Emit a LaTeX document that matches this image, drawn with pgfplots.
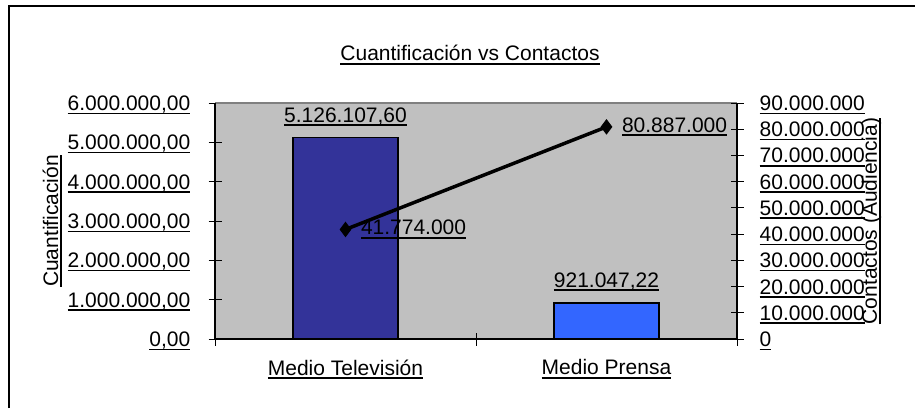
\documentclass[border=0pt]{standalone}
\usepackage{pgfplots}
\pgfplotsset{compat=1.18}
\usepackage{pgfplotstable}
\usepackage{fontspec}
\setmainfont{Liberation Sans}
\definecolor{plotgray}{HTML}{C0C0C0}
\definecolor{bordergray}{HTML}{808080}
\definecolor{tvblue}{HTML}{333399}
\definecolor{prblue}{HTML}{3366FF}
\newcommand\ul[1]{\leavevmode\vtop{\setbox0\hbox{#1}\dp0=0pt\box0\kern2pt\hrule height 1.6pt}}

\pgfplotstableread{
x y lab
1 5126107.60 5.126.107,60
}\tvtab
\pgfplotstableread{
x y lab
2 921047.22 921.047,22
}\prtab
\pgfplotstableread{
x y lab
1 41774000 41.774.000
2 80887000 80.887.000
}\contab

\begin{document}
\begin{tikzpicture}[x=1pt,y=1pt,font=\fontsize{21}{25}\selectfont]
\path[use as bounding box] (0,0) rectangle (915,408);
\draw[line width=2pt] (9,0) -- (9,402) -- (915,402);
\node[anchor=base] at (470,347) {\ul{Cuantificación vs Contactos}};
\begin{axis}[
  at={(215pt,69pt)}, anchor=south west, scale only axis,
  width=522pt, height=236pt,
  font=\fontsize{21}{25}\selectfont,
  xmin=0.5, xmax=2.5, ymin=0, ymax=6000000,
  scaled y ticks=false,
  axis background/.style={fill=plotgray},
  axis line style={draw=none},
  xtick={1,2}, xticklabels={\ul{Medio Televisión},\ul{Medio Prensa}},
  xtick style={draw=none},
  extra x ticks={0.5,1.5,2.5}, extra x tick labels={},
  extra x tick style={xtick style={draw=black,line width=1pt}},
  ytick={0,1000000,2000000,3000000,4000000,5000000,6000000},
  yticklabels={\ul{0,00},\ul{1.000.000,00},\ul{2.000.000,00},\ul{3.000.000,00},\ul{4.000.000,00},\ul{5.000.000,00},\ul{6.000.000,00}},
  ytick pos=left, xtick pos=bottom,
  tick align=center, major tick length=13pt,
  ytick style={black,line width=1pt},
  yticklabel style={anchor=east,inner sep=0pt,xshift=-18pt,yshift=-2pt},
  xticklabel style={anchor=north,inner sep=0pt,yshift=-14pt},
  ylabel={\ul{Cuantificación}},
  ylabel style={at={(axis description cs:-0.312,0.5)},anchor=center,inner sep=0pt},
  bar width=105pt,
  clip=false,
  every node near coord/.style={anchor=south,inner sep=0pt,yshift=11pt,font=\fontsize{21}{25}\selectfont},
]
\draw[bordergray,line width=1.2pt] (rel axis cs:0,1) -- (rel axis cs:1,1);
\draw[black,line width=1.2pt] (rel axis cs:0,1) -- (rel axis cs:0,0) -- (rel axis cs:1,0);
\addplot[ybar, bar shift=0pt, fill=tvblue, draw=black, line width=1.5pt,
  nodes near coords={\ul{\pgfplotspointmeta}}, point meta=explicit symbolic]
  table[x=x,y=y,meta=lab]{\tvtab};
\addplot[ybar, bar shift=0pt, fill=prblue, draw=black, line width=1.5pt,
  nodes near coords={\ul{\pgfplotspointmeta}}, point meta=explicit symbolic]
  table[x=x,y=y,meta=lab]{\prtab};
\end{axis}
\begin{axis}[
  at={(215pt,69pt)}, anchor=south west, scale only axis,
  width=522pt, height=236pt,
  font=\fontsize{21}{25}\selectfont,
  xmin=0.5, xmax=2.5, ymin=0, ymax=90000000,
  scaled y ticks=false,
  hide x axis,
  axis y line*=right,
  axis line style={-,black,line width=1.2pt},
  ytick={0,10000000,20000000,30000000,40000000,50000000,60000000,70000000,80000000,90000000},
  yticklabels={\ul{0},\ul{10.000.000},\ul{20.000.000},\ul{30.000.000},\ul{40.000.000},\ul{50.000.000},\ul{60.000.000},\ul{70.000.000},\ul{80.000.000},\ul{90.000.000}},
  tick align=center, major tick length=13pt,
  ytick style={black,line width=1pt},
  yticklabel style={anchor=west,inner sep=0pt,xshift=16pt,yshift=-2pt},
  ylabel={\ul{Contactos (Audiencia)}},
  ylabel style={at={(axis description cs:1.257,0.5)},anchor=center,inner sep=0pt,rotate=0},
  clip=false,
  every node near coord/.style={anchor=west,inner sep=0pt,xshift=15pt,font=\fontsize{21}{25}\selectfont},
]
\addplot[black, line width=3.5pt, mark=diamond*, mark size=7pt, mark options={line width=1pt},
  nodes near coords={\ul{\pgfplotspointmeta}}, point meta=explicit symbolic]
  table[x=x,y=y,meta=lab]{\contab};
\end{axis}
\end{tikzpicture}
\end{document}
